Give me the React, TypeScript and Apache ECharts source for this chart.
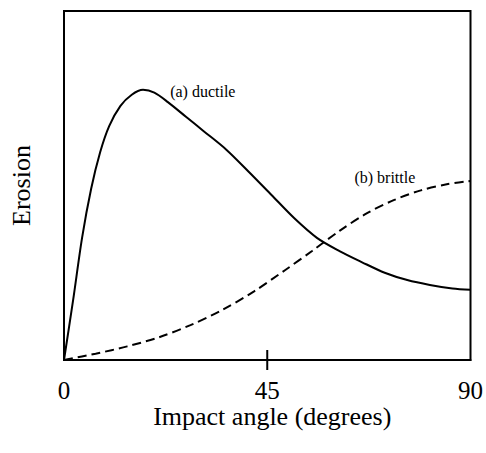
import React, { useEffect, useRef } from "react";
import * as echarts from "echarts";

const ductile: [number, number][] = [
  [0, 0], [2, 17], [4, 35], [6, 49], [8, 59.5], [10, 67], [12.5, 72.8],
  [15, 76], [17.5, 77.4], [20, 76.6], [23, 73.9], [27, 69.7], [31, 65.5],
  [36, 60.2], [41, 53.8], [46, 47.2], [51, 40.6], [56, 35.0], [61, 31.2],
  [66, 28.0], [71, 25.0], [76, 22.9], [81, 21.5], [86, 20.5], [90, 20.1],
];

const brittle: [number, number][] = [
  [0, 0], [7, 1.8], [14, 3.9], [21, 6.5], [28, 10.0], [35, 14.3], [42, 19.6],
  [49, 25.8], [55, 31.3], [61, 37.0], [67, 42.0], [73, 45.8], [79, 48.6],
  [85, 50.4], [90, 51.3],
];

const xTicks = [0, 45, 90];
const crossTicks: [number, number][] = [[45, 0]];
const labelA = { text: "(a) ductile", at: [23.5, 76.8] };
const labelB = { text: "(b) brittle", at: [64.3, 52.4] };
const xName = "Impact angle (degrees)";
const yName = "Erosion";

const FONT = '"Liberation Serif", "Times New Roman", serif';

export default function App() {
  const ref = useRef<HTMLDivElement>(null);
  useEffect(() => {
    if (!ref.current) return;
    const chart = echarts.init(ref.current, null, { renderer: "svg" });
    const mk = (l: { text: string; at: number[] }) => ({
      symbol: "circle",
      symbolSize: 0,
      silent: true,
      data: [{ coord: l.at, value: l.text }],
      label: {
        show: true,
        position: "right",
        distance: 0,
        formatter: l.text,
        color: "#000",
        fontFamily: FONT,
        fontSize: 16,
      },
    });
    chart.setOption({
      animation: false,
      backgroundColor: "#fff",
      grid: {
        left: 63,
        top: 11,
        width: 410,
        height: 349,
        show: true,
        borderColor: "#000",
        borderWidth: 2,
        backgroundColor: "transparent",
      },
      xAxis: {
        type: "value",
        min: 0,
        max: 90,
        interval: 45,
        name: xName,
        nameLocation: "middle",
        nameGap: 46,
        nameMoveOverlap: false,
        nameTextStyle: {
          color: "#000",
          fontFamily: FONT,
          fontSize: 26,
          lineHeight: 20,
          padding: [0, 0, 0, 10],
        },
        axisLine: { show: true, lineStyle: { color: "#000", width: 2 } },
        axisTick: { show: false },
        axisLabel: {
          show: true,
          customValues: xTicks,
          margin: 22,
          color: "#000",
          fontFamily: FONT,
          fontSize: 25,
          lineHeight: 17,
        },
        splitLine: { show: false },
      },
      yAxis: {
        type: "value",
        min: 0,
        max: 100,
        name: yName,
        nameLocation: "middle",
        nameRotate: 90,
        nameGap: 30,
        nameMoveOverlap: false,
        nameTextStyle: { color: "#000", fontFamily: FONT, fontSize: 26 },
        axisLine: { show: true, lineStyle: { color: "#000", width: 2 } },
        axisTick: { show: false },
        axisLabel: { show: false },
        splitLine: { show: false },
      },
      series: [
        {
          type: "line",
          data: ductile,
          smooth: 0.3,
          showSymbol: false,
          symbol: "none",
          lineStyle: { color: "#000", width: 2, type: "solid" },
          markPoint: mk(labelA),
        },
        {
          type: "line",
          data: brittle,
          smooth: 0.3,
          showSymbol: false,
          symbol: "none",
          lineStyle: { color: "#000", width: 2, type: [9, 5] },
          markPoint: mk(labelB),
        },
        {
          type: "custom",
          silent: true,
          clip: false,
          data: crossTicks,
          encode: { x: 0, y: 1 },
          renderItem: (_params: any, api: any) => {
            const p = api.coord([api.value(0), api.value(1)]);
            return {
              type: "line",
              shape: { x1: p[0], y1: p[1] - 10, x2: p[0], y2: p[1] + 10 },
              style: { stroke: "#000", lineWidth: 2 },
            };
          },
        },
      ],
    });
    return () => chart.dispose();
  }, []);
  return (
    <div
      ref={ref}
      style={{ position: "fixed", left: 0, top: 0, width: 486, height: 453 }}
    />
  );
}
